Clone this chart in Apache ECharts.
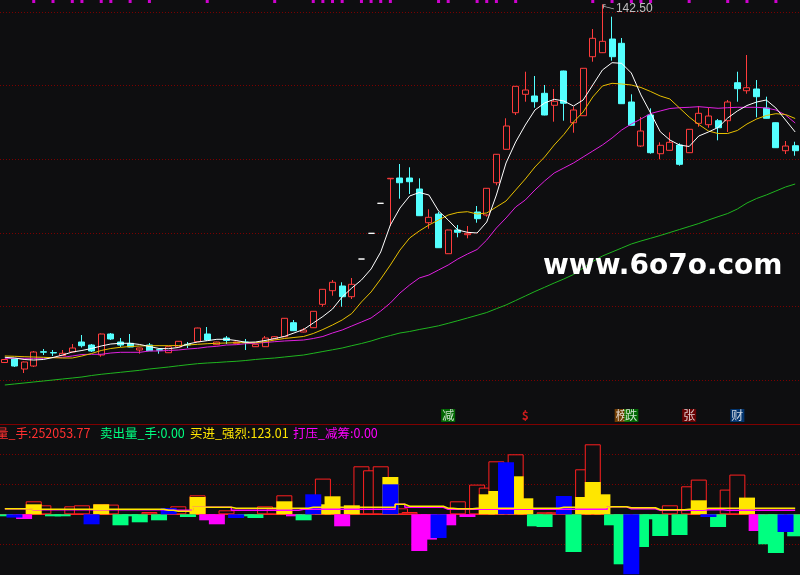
<!DOCTYPE html>
<html><head><meta charset="utf-8">
<script src="https://cdn.jsdelivr.net/npm/echarts@6/dist/echarts.min.js"></script>
<style>html,body{margin:0;padding:0;background:#0e0e10;}#c{width:800px;height:575px;}</style>
</head><body><div id="c"></div>
<script>
// ---- price data (open, close, low, high) ----
const opens = [25.70,26.85,23.58,24.56,29.23,28.96,27.99,29.13,32.39,31.41,
28.15,35.00,32.39,31.96,29.78,31.41,29.88,28.90,30.76,31.64,
32.49,35.00,31.51,33.69,31.96,32.39,30.86,30.86,33.37,34.12,
38.68,35.65,37.05,44.68,49.12,50.65,47.16,59.45,67.83,77.62,
85.61,85.87,85.87,82.28,71.29,74.13,61.18,68.91,67.38,74.78,
73.80,84.33,95.23,107.16,113.16,112.61,113.49,109.58,120.76,103.90,
106.18,125.42,126.73,131.19,129.79,110.65,96.30,106.41,93.79,94.90,
96.63,94.12,103.70,103.25,104.55,104.55,116.94,114.33,114.89,108.69,
103.90,94.77,96.40];
const closes = [26.68,24.56,25.87,29.13,29.06,28.80,28.70,30.43,31.18,29.45,
35.00,33.37,31.41,30.76,30.43,29.55,29.72,30.86,32.62,31.41,
36.95,33.04,32.39,32.88,32.39,32.23,31.64,33.69,34.12,40.12,
36.07,36.30,42.40,49.57,51.86,47.16,51.20,59.45,67.83,77.62,
85.77,84.33,84.66,73.57,73.05,63.14,68.91,68.16,67.83,72.60,
82.51,93.60,102.83,115.77,114.57,110.75,106.41,110.88,110.23,108.04,
121.64,131.42,130.44,125.42,110.10,103.05,101.19,94.12,96.53,97.51,
90.33,101.75,106.96,106.08,102.27,110.65,114.99,115.31,112.38,105.33,
95.75,96.30,94.77];
const lows = [25.54,24.24,22.28,24.24,28.15,27.82,27.82,28.96,30.59,29.13,
27.59,33.04,30.76,30.66,28.58,29.45,28.58,28.80,30.66,30.43,
32.39,32.72,31.41,31.74,31.90,29.78,30.76,30.76,33.27,34.02,
35.97,35.55,36.95,43.90,47.49,43.90,46.41,59.45,67.83,77.62,
70.21,79.12,80.65,73.48,69.33,63.04,61.08,66.53,66.20,71.29,
73.25,83.49,95.13,106.41,110.75,108.79,106.31,104.23,104.55,100.64,
106.08,123.79,126.63,124.12,110.00,102.95,95.97,93.79,91.96,94.80,
89.88,94.02,102.59,102.27,98.16,100.87,110.75,113.36,105.66,105.24,
95.65,93.69,93.14];
const highs = [26.85,27.01,26.03,29.45,30.11,29.78,29.78,31.74,34.67,31.74,
35.16,35.32,33.69,35.00,30.53,32.06,30.11,30.93,32.72,32.39,
37.05,37.28,32.49,34.34,32.49,33.37,31.74,34.34,34.34,40.21,
39.56,36.95,42.50,49.67,52.61,51.86,53.26,59.45,67.83,77.62,
85.77,90.43,89.36,85.77,75.66,74.88,69.01,70.54,70.21,76.74,
82.61,93.70,105.34,115.87,120.53,119.13,116.20,114.89,120.86,109.12,
121.74,134.45,142.50,138.47,131.52,113.16,105.76,108.59,97.51,100.77,
97.18,101.84,109.34,108.79,105.11,111.30,120.53,125.98,117.82,112.38,
104.00,97.93,97.70];

// ---- moving average lines ----
const ma5 = [27.40,27.17,26.69,26.52,26.69,27.34,28.15,29.13,29.62,30.27,
31.09,31.74,31.97,31.97,31.58,30.92,30.27,30.21,30.60,31.74,
32.39,32.82,33.27,33.27,32.88,32.29,32.39,32.88,33.53,34.19,
35.33,36.47,38.59,40.71,43.15,47.07,50.00,52.61,56.20,61.74,
70.54,76.09,80.00,81.14,80.33,75.11,72.17,68.91,68.16,67.94,
71.52,80.33,90.76,97.61,103.15,108.04,110.33,111.53,110.98,109.35,
111.30,116.20,121.09,123.47,123.27,120.11,112.94,107.07,100.97,98.26,
96.63,96.14,99.57,100.87,102.34,105.44,107.72,109.51,110.65,111.30,
108.70,104.78,100.87];
const ma10 = [27.83,27.73,27.60,27.50,27.40,27.27,27.17,27.17,27.83,28.64,
29.62,30.27,30.66,30.92,31.09,31.19,31.19,31.19,31.25,31.41,
31.64,31.84,31.97,32.07,32.16,32.16,32.16,32.49,33.04,33.53,
33.86,34.19,35.16,36.47,37.94,39.57,41.69,45.44,48.70,52.94,
57.50,62.39,66.30,68.59,70.54,72.17,73.80,74.62,74.88,74.13,
74.46,76.41,78.37,81.96,85.54,89.46,92.72,96.63,100.05,104.13,
107.39,112.28,115.87,116.75,116.52,116.20,115.38,114.08,112.61,111.63,
108.70,105.76,103.32,101.20,100.38,100.38,101.36,103.48,105.11,106.25,
106.84,106.58,105.27];
const ma20 = [27.08,27.08,27.08,27.08,27.08,27.34,27.40,27.83,28.32,28.38,
28.38,28.80,29.03,29.03,29.03,29.46,29.46,29.62,29.78,30.11,
30.34,30.76,30.99,31.41,31.51,31.84,31.97,32.23,32.49,32.72,
32.88,33.04,33.53,34.19,35.33,36.30,37.61,38.91,40.22,42.50,
45.11,48.37,50.98,53.26,54.24,55.87,57.50,59.46,61.09,62.55,
65.65,69.57,72.83,76.41,78.70,81.96,84.89,87.50,89.13,90.76,
92.72,94.67,96.63,98.91,101.52,103.48,105.11,106.90,107.72,108.53,
108.79,108.92,109.12,108.86,108.60,108.79,108.92,108.92,108.92,108.70,
108.04,106.41,103.80];
const ma60 = [18.37,18.70,19.02,19.35,19.67,20.00,20.33,20.65,20.98,21.47,
21.86,22.19,22.51,22.84,23.16,23.59,23.91,24.24,24.63,24.99,
25.32,25.54,25.71,25.93,26.10,26.36,26.69,26.95,27.17,27.50,
27.83,28.15,28.71,29.29,29.85,30.43,31.19,31.90,32.72,33.70,
34.51,35.33,35.82,36.47,37.05,37.67,38.49,39.34,40.22,41.10,
42.01,43.25,44.46,45.92,47.39,48.86,50.23,51.63,52.94,54.40,
56.52,58.64,60.43,61.74,63.04,64.35,65.33,66.21,67.12,68.10,
69.08,70.05,71.03,72.17,73.25,74.29,75.76,77.72,79.19,80.33,
81.63,82.94,83.91];

// ---- flags ----
const topFlagIdx = [3,5,7,8,10,11,13,15,21,28,32,33,34,35,37,38,39,40,45,46,49,50,51,53,61,63,65,66,67,71,75,77,80];
const eventIdx  = [46, 54, 64, 65, 71, 76];
const eventText = ['减', '$', '榜', '跌', '张', '财'];

// ---- lower indicator bars [index, value(手)] ----
const buyVolBars = [[3,65000],[4,45000],[7,40000],[8,45000],[10,50000],[11,48500],[15,11500],[18,40000],[20,95000],[23,20000],[27,40000],[28,28500],[29,95000],[33,178500],[37,240000],[38,220000],[39,240000],[41,30000],[42,11500],[47,65000],[49,148500],[50,133500],[51,265000],[53,300000],[56,10000],[57,10000],[60,225000],[61,350000],[69,45000],[71,140000],[72,173500],[75,123500],[76,198500]];
const strongBuyBars = [[3,50000],[10,50000],[20,86500],[29,65000],[33,50000],[34,90000],[36,45000],[40,186500],[50,100000],[51,116500],[53,190000],[54,80000],[60,86500],[61,161500],[62,100000],[72,70000],[77,83500]];
const suppressBars = [[2,-23500],[21,-30000],[22,-50000],[30,-10000],[35,-60000],[43,-183500],[44,-126500],[46,-55000],[48,-13500],[78,-83500]];
const sellVolBars = [[0,-10000],[5,-10000],[6,-10000],[12,-55000],[13,-10000],[14,-40000],[16,-30000],[19,-13500],[25,-10000],[26,-18500],[31,-30000],[55,-60000],[56,-63500],[59,-188500],[63,-55000],[64,-250000],[66,-163500],[67,-25000],[68,-108500],[70,-103500],[74,-63500],[79,-150000],[80,-193500],[82,-110000]];
const blueBars = [[1,-16500],[9,-50000],[17,31500],[24,-18500],[32,100000],[40,150000],[45,-118500],[52,260000],[58,91500],[65,-305000],[73,-13500],[81,-88500]];
const yellowThin = [27500,27500,27500,25000,25000,25000,25000,25000,25000,25000,
25000,25000,25000,25000,25000,25000,25000,20000,15000,15000,
35000,35000,35000,35000,30000,30000,30000,30000,30000,30000,
30000,30000,35000,35000,35000,35000,35000,35000,35000,35000,
35000,50000,40000,40000,40000,40000,30000,27500,27500,30000,
30000,30000,30000,30000,30000,30000,30000,30000,35000,35000,
35000,35000,35000,37500,37500,32500,32500,32500,22500,22500,
22500,25000,25000,30000,30000,30000,30000,30000,30000,30000,
30000,30000,30000];
const magentaThin = [27500,27500,27500,22500,22500,22500,22500,22500,22500,22500,
22500,22500,22500,22500,22500,22500,22500,20000,20000,20000,
35000,35000,35000,35000,20000,20000,20000,20000,20000,20000,
20000,25000,25000,25000,25000,25000,25000,25000,25000,25000,
25000,50000,35000,35000,35000,35000,25000,25000,25000,25000,
25000,25000,25000,25000,25000,25000,25000,25000,25000,25000,
25000,25000,25000,37500,37500,27500,27500,27500,20000,20000,
20000,20000,20000,22500,22500,20000,20000,20000,20000,20000,
20000,20000,20000];

// ---- build ----
const N = opens.length;
const cats = opens.map((_, i) => String(i));
const candleData = opens.map((o, i) => [o, closes[i], lows[i], highs[i]]);
function spread(pairs) { const a = new Array(N).fill(null); pairs.forEach(p => { a[p[0]] = p[1]; }); return a; }
const peakHigh = Math.max.apply(null, highs);
const peakIdx = highs.indexOf(peakHigh);

const BG = '#0e0e10';
const GRID_LEFT = -4.35, GRID_W = 805.1;
const EVENT_Y = 8.42, FLAG_Y = 143.42;
const eventBg = {'减':'#008000','$':null,'榜':'#8b4a00','跌':'#008000','张':'#800000','财':'#003f86'};
const gridLine = {show:true, lineStyle:{color:'#7a0000', width:1, type:[1,2]}};
const hideAxis = {axisLine:{show:false}, axisTick:{show:false}, axisLabel:{show:false}, splitLine:{show:false}};
const legendFont = '12.5px "Noto Sans CJK SC"';

const chart = echarts.init(document.getElementById('c'), null, {width:800, height:575});
function barSeries(name, pairs, style) {
  return {type:'bar', name, xAxisIndex:1, yAxisIndex:1, data: spread(pairs), barWidth:16, barGap:'-100%', itemStyle: style, silent:true};
}
chart.setOption({
  backgroundColor: BG,
  animation: false,
  grid: [
    {left: GRID_LEFT, width: GRID_W, top: 12, height: 368},
    {left: GRID_LEFT, width: GRID_W, top: 424.3, height: 150}
  ],
  xAxis: [
    Object.assign({type:'category', gridIndex:0, data:cats, boundaryGap:true}, hideAxis),
    {type:'category', gridIndex:1, data:cats, boundaryGap:true, axisLine:{show:true, onZero:true, lineStyle:{color:'#ff2020', width:1}}, axisTick:{show:false}, axisLabel:{show:false}, splitLine:{show:false}},
    {type:'category', gridIndex:1, data:cats, boundaryGap:true, position:'top', axisLine:{show:true, onZero:false, lineStyle:{color:'#800000', width:1}}, axisTick:{show:false}, axisLabel:{show:false}, splitLine:{show:false}}
  ],
  yAxis: [
    {type:'value', gridIndex:0, min:20, max:140, interval:24, axisLine:{show:false}, axisTick:{show:false}, axisLabel:{show:false}, splitLine:gridLine},
    {type:'value', gridIndex:1, min:-300000, max:450000, interval:150000, axisLine:{show:false}, axisTick:{show:false}, axisLabel:{show:false},
     splitLine:{show:true, showMinLine:false, showMaxLine:false, lineStyle:{color:'#7a0000', width:1, type:[1,2]}}}
  ],
  graphic: [
    {type:'text', x:-29, y:433, style:{text:'买入量_手:252053.77', fill:'#ff3030', font:legendFont, verticalAlign:'middle'}},
    {type:'text', x:100, y:433, style:{text:'卖出量_手:0.00', fill:'#00ff80', font:legendFont, verticalAlign:'middle'}},
    {type:'text', x:190, y:433, style:{text:'买进_强烈:123.01', fill:'#ffe600', font:legendFont, verticalAlign:'middle'}},
    {type:'text', x:293, y:433, style:{text:'打压_减筹:0.00', fill:'#ff00ff', font:legendFont, verticalAlign:'middle'}},
    {type:'text', x:543, y:267, z:100, style:{text:'www.6o7o.com', fill:'#ffffff', font:'bold 28px "DejaVu Sans"', verticalAlign:'middle'}}
  ],
  series: [
    {type:'candlestick', xAxisIndex:0, yAxisIndex:0, data:candleData, barWidth:6.5, clip:false,
     itemStyle:{color:BG, color0:'#54ffff', borderColor:'#ff3c3c', borderColor0:'#54ffff', borderColorDoji:'#ffffff', borderWidth:1}},
    {type:'line', xAxisIndex:0, yAxisIndex:0, data:ma60, symbol:'none', clip:false, lineStyle:{color:'#1fb51f', width:1}},
    {type:'line', xAxisIndex:0, yAxisIndex:0, data:ma20, symbol:'none', clip:false, lineStyle:{color:'#e020e0', width:1}},
    {type:'line', xAxisIndex:0, yAxisIndex:0, data:ma10, symbol:'none', clip:false, lineStyle:{color:'#e8c000', width:1}},
    {type:'line', xAxisIndex:0, yAxisIndex:0, data:ma5, symbol:'none', clip:false, lineStyle:{color:'#ffffff', width:1}},
    {type:'scatter', xAxisIndex:0, yAxisIndex:0, clip:false, z:20,
     symbol:'path://M0,0L0,5L1,5L1,1L3,1L3,0ZM1,2L12,5L12,6L1,3Z', symbolSize:[11,5], symbolOffset:[6,2.5],
     itemStyle:{color:'#dddddd'},
     label:{show:true, position:'right', distance:2, offset:[0,2], color:'#e8e8e8', fontFamily:'Liberation Sans', fontSize:12,
            formatter: p => Number(p.value[1]).toFixed(2)},
     data:[[peakIdx, peakHigh]]},
    {type:'scatter', xAxisIndex:0, yAxisIndex:0, clip:false, symbol:'rect', symbolSize:[3,3],
     itemStyle:{color:'#ff00ff'}, data: topFlagIdx.map(i => [i, FLAG_Y])},
    {type:'scatter', xAxisIndex:0, yAxisIndex:0, clip:false, symbolSize:1, itemStyle:{color:'rgba(0,0,0,0)'},
     data: eventIdx.map((i, k) => {
       const t = eventText[k], bg = eventBg[t];
       return {value:[i, EVENT_Y], label:{show:true, position:'inside', formatter:t,
         color: bg ? '#ffffff' : '#ff2020', fontWeight: bg ? 'normal' : 'bold',
         fontFamily:'Noto Sans CJK SC', fontSize:12, backgroundColor: bg || 'transparent', padding:[0,1,0,1], lineHeight:13}};
     })},
    {type:'line', xAxisIndex:1, yAxisIndex:1, data:magentaThin, symbol:'none', step:'middle', lineStyle:{color:'#ff00ff', width:1.5}},
    {type:'line', xAxisIndex:1, yAxisIndex:1, data:yellowThin, symbol:'none', step:'middle', lineStyle:{color:'#ffe600', width:1.5}},
    barSeries('买入量_手', buyVolBars, {color:BG, borderColor:'#ff2020', borderWidth:1}),
    barSeries('买进_强烈', strongBuyBars, {color:'#ffe600'}),
    barSeries('打压_减筹', suppressBars, {color:'#ff00ff'}),
    barSeries('卖出量_手', sellVolBars, {color:'#00ff80'}),
    barSeries('蓝', blueBars, {color:'#0000ff'})
  ]
});
</script>
</body></html>
